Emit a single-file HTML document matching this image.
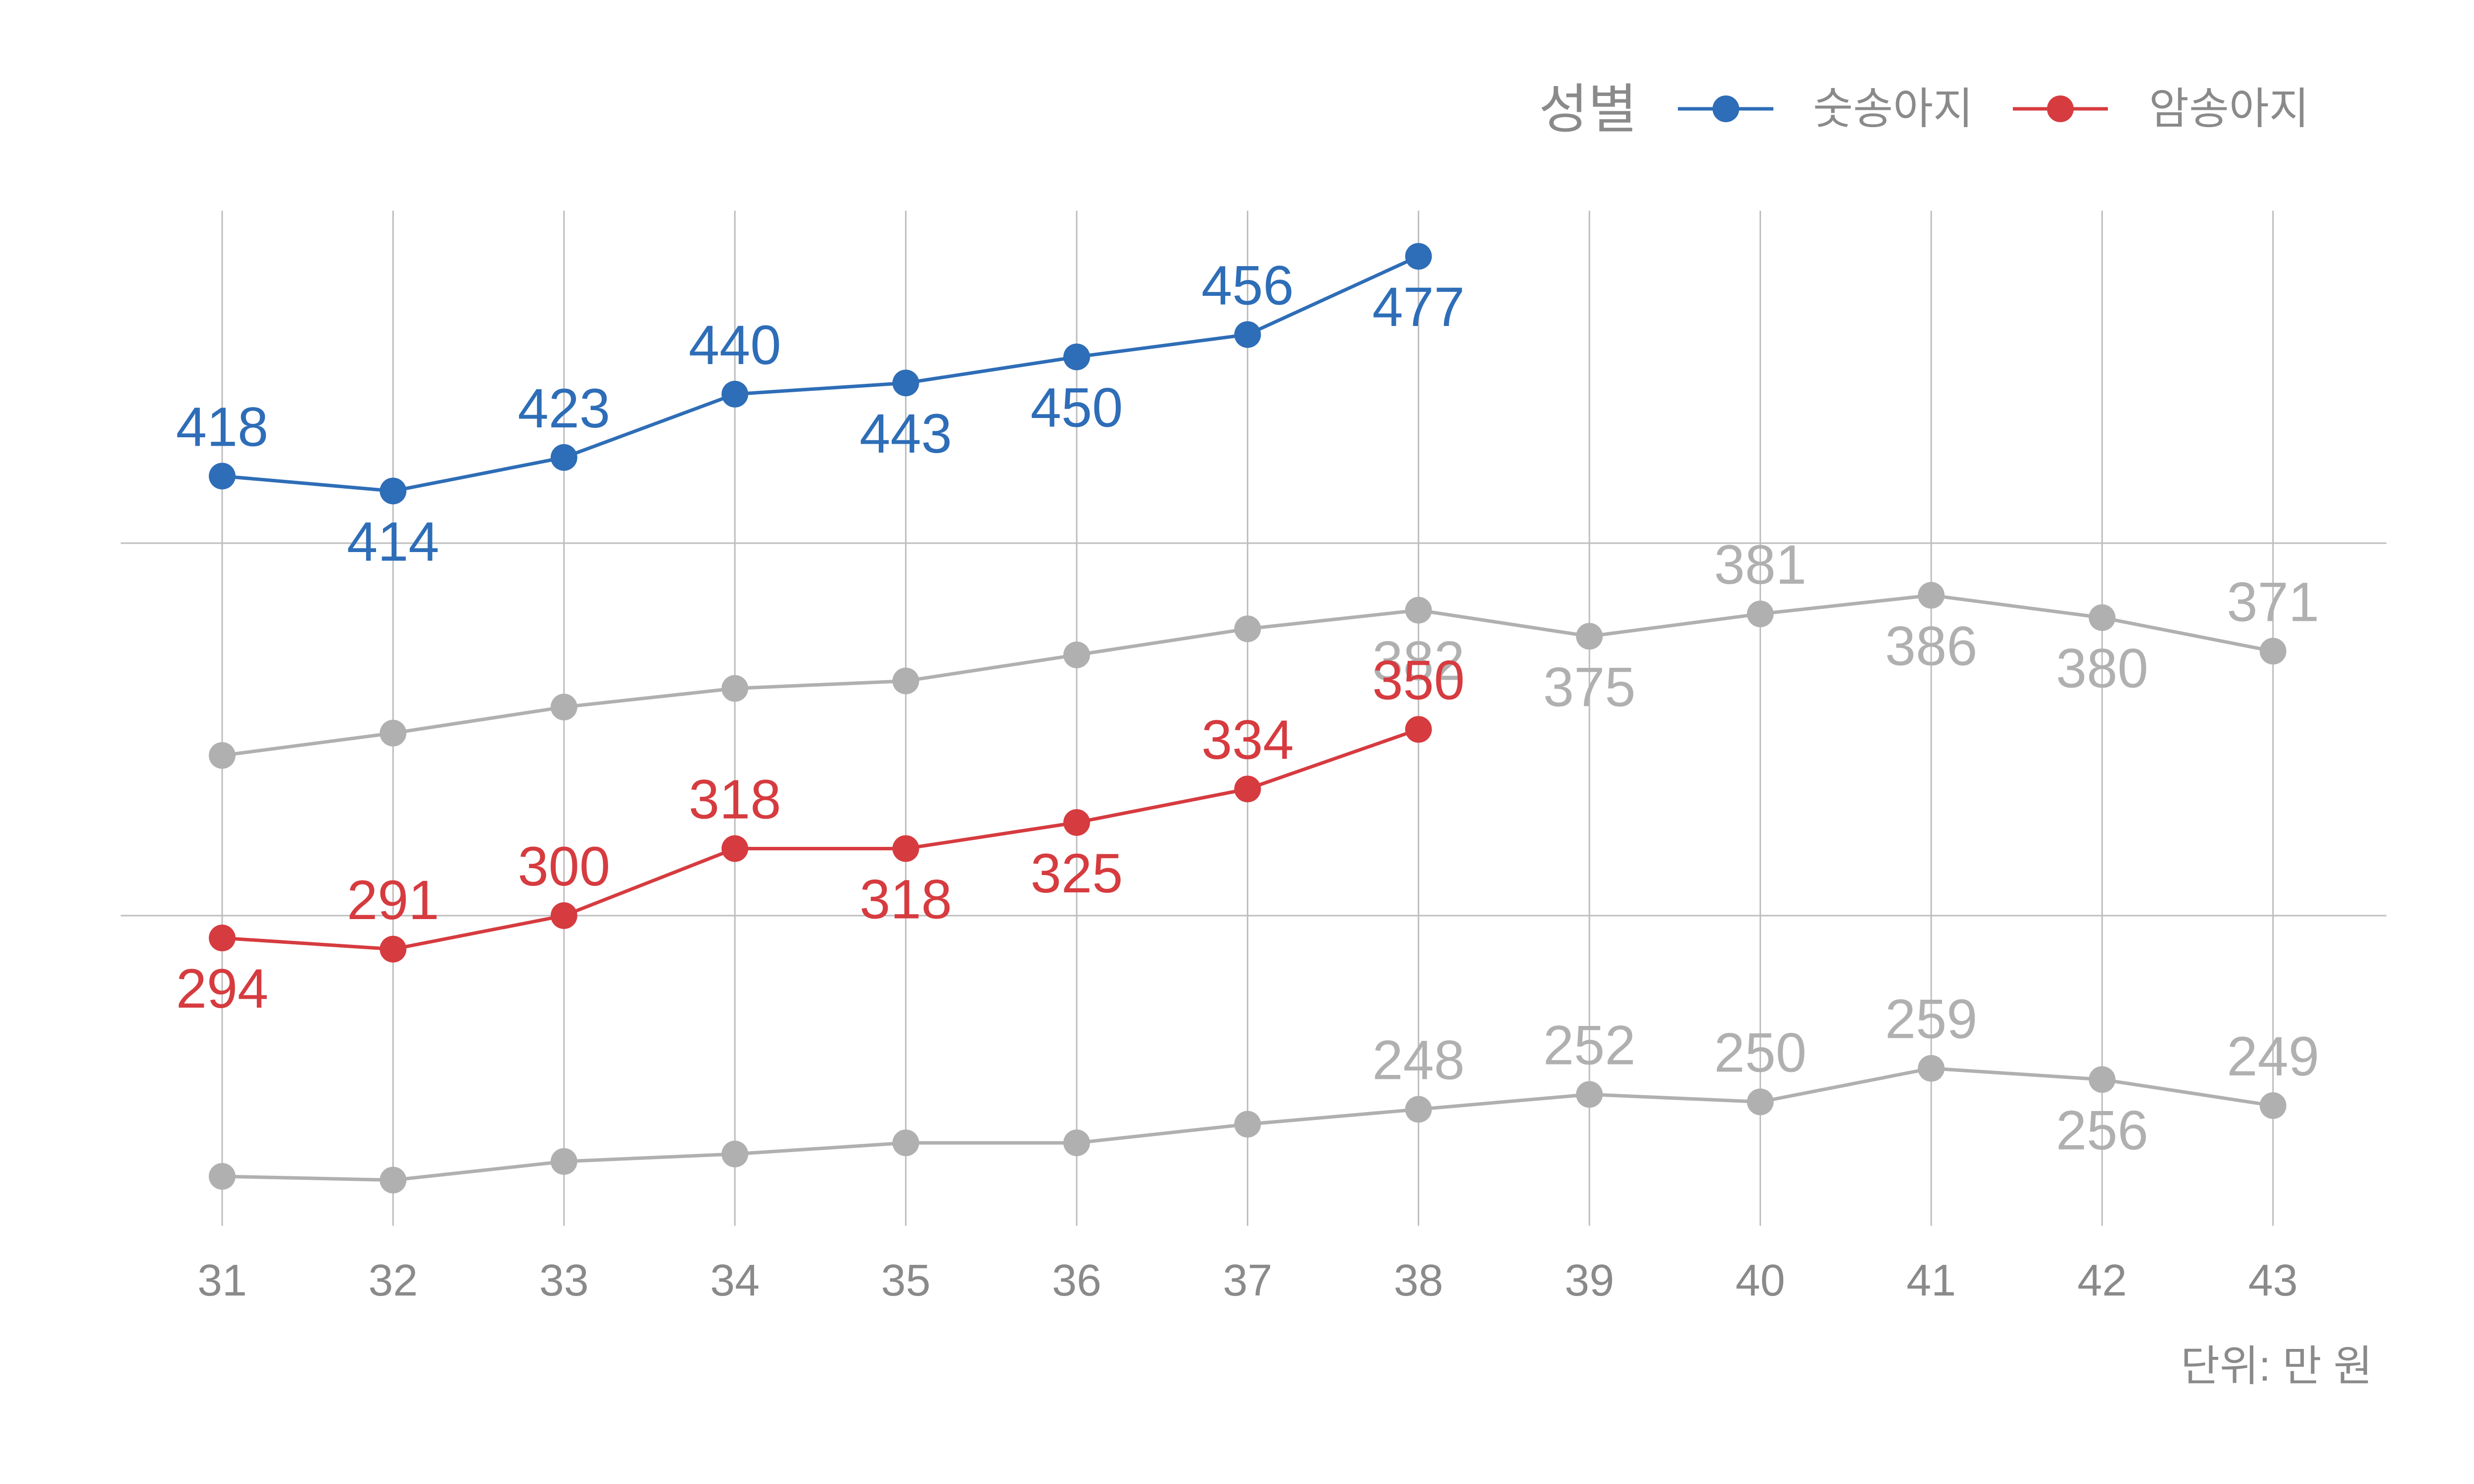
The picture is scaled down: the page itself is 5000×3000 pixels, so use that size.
<!DOCTYPE html>
<html><head><meta charset="utf-8"><style>html,body{margin:0;padding:0;background:#fff}svg{display:block}</style></head>
<body>
<svg xmlns="http://www.w3.org/2000/svg" width="5000" height="3000" viewBox="0 0 5000 3000" font-family="'Liberation Sans','Noto Sans CJK KR',sans-serif">
<rect width="5000" height="3000" fill="#fff"/>
<g stroke="#bdbdbd" stroke-width="3">
<line x1="449" y1="426" x2="449" y2="2478"/><line x1="794.4" y1="426" x2="794.4" y2="2478"/><line x1="1139.8" y1="426" x2="1139.8" y2="2478"/><line x1="1485.2" y1="426" x2="1485.2" y2="2478"/><line x1="1830.6" y1="426" x2="1830.6" y2="2478"/><line x1="2176" y1="426" x2="2176" y2="2478"/><line x1="2521.4" y1="426" x2="2521.4" y2="2478"/><line x1="2866.8" y1="426" x2="2866.8" y2="2478"/><line x1="3212.2" y1="426" x2="3212.2" y2="2478"/><line x1="3557.6" y1="426" x2="3557.6" y2="2478"/><line x1="3903" y1="426" x2="3903" y2="2478"/><line x1="4248.4" y1="426" x2="4248.4" y2="2478"/><line x1="4593.8" y1="426" x2="4593.8" y2="2478"/>
<line x1="244" y1="1098" x2="4823" y2="1098"/><line x1="244" y1="1851" x2="4823" y2="1851"/>
</g>
<g id="series"></g>
<g font-size="90" fill="#8a8a8a" text-anchor="middle">
<text x="449" y="2619">31</text><text x="794.4" y="2619">32</text><text x="1139.8" y="2619">33</text><text x="1485.2" y="2619">34</text><text x="1830.6" y="2619">35</text><text x="2176" y="2619">36</text><text x="2521.4" y="2619">37</text><text x="2866.8" y="2619">38</text><text x="3212.2" y="2619">39</text><text x="3557.6" y="2619">40</text><text x="3903" y="2619">41</text><text x="4248.4" y="2619">42</text><text x="4593.8" y="2619">43</text>
</g>
<text x="4795" y="2791" font-size="86" fill="#8a8a8a" text-anchor="end">단위: 만 원</text>
<text x="3110" y="258" font-size="108" fill="#8a8a8a">성별</text>
<line x1="3391" y1="220" x2="3584" y2="220" stroke="#2e6db7" stroke-width="7"/><circle cx="3488" cy="220" r="27" fill="#2e6db7"/>
<text x="3664" y="250" font-size="88" fill="#8a8a8a">숫송아지</text>
<line x1="4068" y1="220" x2="4260" y2="220" stroke="#d63b3f" stroke-width="7"/><circle cx="4164" cy="220" r="27" fill="#d63b3f"/>
<text x="4343" y="250" font-size="88" fill="#8a8a8a">암송아지</text>
<script>
(function(){
var X=function(i){return 449+i*345.4;},Y=function(v){return 4110-7.53*v;};
var S=[
{c:"#b0b0b0",v:[343,349,356,361,363,370,377,382,375,381,386,380,371],lab:[0,0,0,0,0,0,0,-1,-1,1,-1,-1,1]},
{c:"#b0b0b0",v:[230,229,234,236,239,239,244,248,252,250,259,256,249],lab:[0,0,0,0,0,0,0,1,1,1,1,-1,1]},
{c:"#d63b3f",v:[294,291,300,318,318,325,334,350],lab:[-1,1,1,1,-1,-1,1,1]},
{c:"#2e6db7",v:[418,414,423,440,443,450,456,477],lab:[1,-1,1,1,-1,-1,1,-1]}
];
var ns="http://www.w3.org/2000/svg",g=document.getElementById("series");
S.forEach(function(s){
var p=s.v.map(function(v,i){return X(i)+","+Y(v);}).join(" ");
var pl=document.createElementNS(ns,"polyline");pl.setAttribute("points",p);pl.setAttribute("fill","none");pl.setAttribute("stroke",s.c);pl.setAttribute("stroke-width","7");g.appendChild(pl);
s.v.forEach(function(v,i){var c=document.createElementNS(ns,"circle");c.setAttribute("cx",X(i));c.setAttribute("cy",Y(v));c.setAttribute("r","27");c.setAttribute("fill",s.c);g.appendChild(c);});
});
S.forEach(function(s){
s.v.forEach(function(v,i){if(!s.lab[i])return;var t=document.createElementNS(ns,"text");t.setAttribute("x",X(i));t.setAttribute("y",Y(v)+(s.lab[i]>0?-61:141));t.setAttribute("text-anchor","middle");t.setAttribute("font-size","112");t.setAttribute("fill",s.c);t.textContent=String(v);g.appendChild(t);});
});
})();
</script>
</svg>
</body></html>
